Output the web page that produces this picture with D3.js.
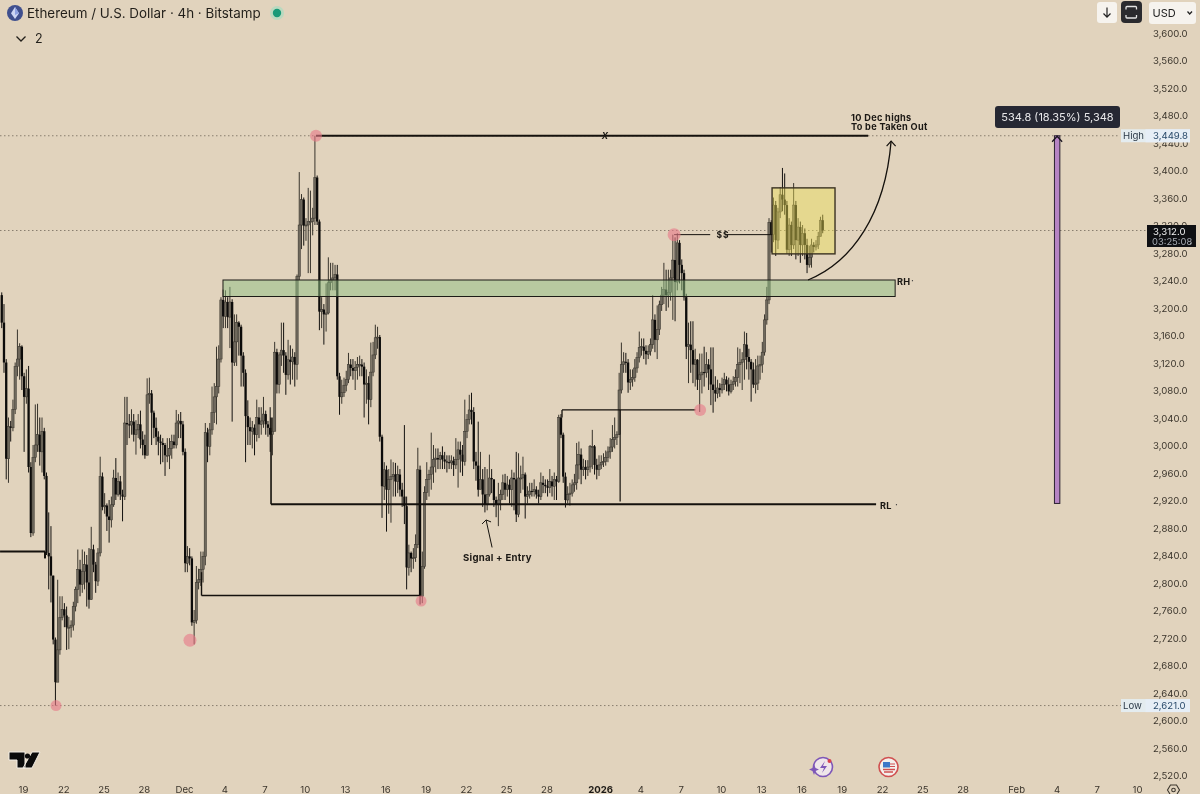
<!DOCTYPE html>
<html><head><meta charset="utf-8">
<script src="https://cdn.jsdelivr.net/npm/d3@7/dist/d3.min.js"></script>
<style>html,body{margin:0;padding:0;background:#e1d3bd;overflow:hidden}svg{display:block;font-family:Inter,"Noto Sans",sans-serif}</style>
</head><body><svg id="c" width="1200" height="794"></svg>
<script>
// 4h candles, first bar opens Nov 17 2025 08:00 UTC
const firstOpen = 3218;
const closes = [
3178,3120,2980,3027,3025,3052,3114,3125,3143,3100,
3070,3082,2968,2872,2982,3000,3015,2990,3020,2955,
2843,2838,2810,2717,2655,2702,2749,2761,2752,2735,
2735,2738,2765,2790,2819,2797,2816,2826,2800,2775,
2848,2826,2802,2843,2954,2910,2912,2896,2891,2913,
2952,2928,2947,2928,2925,3032,3030,3029,3034,3015,
3022,3030,3008,3000,2985,3073,3075,3047,3025,3012,
3005,3003,3000,2985,2985,2995,3005,3000,3032,3035,
3030,2990,2828,2838,2835,2742,2745,2800,2804,2819,
2838,3018,2998,3022,3047,3070,3085,3125,3211,3187,
3208,3186,3208,3120,3150,3178,3172,3130,3105,3042,
3026,3020,3025,3015,3040,3030,3035,3045,3030,3025,
3015,3020,3135,3088,3131,3138,3130,3102,3124,3121,
3128,3117,3245,3320,3357,3319,3320,3325,3325,3330,
3389,3325,3194,3197,3190,3192,3236,3240,3243,3248,
3100,3070,3076,3087,3095,3117,3112,3108,3113,3117,
3117,3114,3088,3090,3066,3106,3131,3156,3157,3012,
2940,2964,2935,2950,2954,2957,2947,2957,2935,2925,
2911,2822,2843,2835,2836,2855,2964,2780,2823,2931,
2950,2957,2968,2979,2981,2979,2985,2979,2976,2975,
2974,2977,2971,2979,2993,2986,2976,3020,3037,3051,
3048,2976,2970,2935,2950,2928,2913,2928,2952,2950,
2920,2913,2920,2928,2945,2935,2942,2935,2952,2950,
2899,2952,2952,2957,2925,2928,2933,2932,2935,2928,
2925,2945,2942,2940,2938,2947,2940,2950,2947,3040,
3015,2954,2920,2928,2930,2942,2945,2971,2986,2964,
2968,2964,2968,2998,2998,2971,2964,2971,2975,2976,
2982,2990,2997,3008,3011,3015,3080,3117,3121,3120,
3091,3095,3098,3112,3127,3142,3143,3137,3132,3136,
3146,3182,3153,3168,3204,3218,3226,3218,3222,3243,
3269,3237,3294,3262,3250,3215,3143,3146,3138,3117,
3124,3095,3102,3106,3105,3117,3110,3088,3080,3075,
3083,3080,3088,3095,3088,3078,3088,3092,3098,3117,
3120,3124,3146,3128,3121,3110,3088,3090,3115,3117,
3135,3182,3211,3324,3306,3349,3298,3339,3364,3357,
3349,3284,3320,3291,3349,3298,3317,3291,3308,3291,
3262,3273,3291,3288,3291,3303,3327,3312];
const highs = [
3222,3205,3125,3040,3035,3066,3120,3168,3148,3145,
3105,3110,3115,2975,3000,3059,3060,3040,3040,3025,
2960,2902,2882,2810,2720,2804,2780,2780,2770,2765,
2750,2745,2772,2794,2848,2833,2848,2845,2840,2850,
2881,2855,2830,2850,2983,2960,2930,2915,2920,2925,
2964,2981,2960,2955,2935,3070,3070,3045,3052,3045,
3036,3045,3050,3020,3015,3097,3098,3080,3050,3040,
3020,3015,3010,3003,3010,3010,3015,3015,3051,3045,
3048,3035,2995,2853,2850,2838,2760,2824,2820,2845,
2845,3032,3025,3032,3085,3090,3143,3145,3215,3226,
3225,3215,3230,3212,3190,3190,3180,3175,3135,3110,
3065,3040,3035,3030,3066,3055,3055,3070,3050,3035,
3055,3040,3150,3140,3135,3178,3178,3135,3153,3145,
3140,3135,3248,3397,3365,3360,3330,3374,3370,3345,
3449.8,3392,3328,3215,3205,3235,3273,3265,3265,3262,
3262,3105,3095,3098,3108,3134,3125,3125,3122,3128,
3130,3125,3120,3110,3100,3149,3150,3175,3172,3160,
3015,2975,2970,2965,2979,2975,2974,2970,2965,2945,
3029,2925,2855,2845,2850,2870,2996,2970,2845,2940,
2975,2964,3018,3000,2995,2995,2990,2998,2990,2985,
2985,2985,2983,3010,3005,3005,3000,3066,3045,3073,
3076,3055,2990,3034,2990,2965,2968,2965,2986,2965,
2950,2925,2945,2935,2957,2958,2955,2950,2964,2960,
2990,2988,2970,2983,2960,2940,2945,2945,2950,2940,
2935,2960,2955,2950,2950,2965,2955,2960,2955,3044,
3045,3018,2960,2940,2945,2950,2958,3003,3005,2995,
2980,2978,2978,3000,3022,3000,2980,2985,2985,2988,
2992,2998,3010,3029,3040,3020,3105,3149,3135,3134,
3125,3110,3110,3125,3135,3165,3155,3155,3145,3145,
3155,3218,3190,3203,3210,3230,3265,3255,3255,3255,
3306,3302,3308,3298,3270,3255,3220,3178,3180,3180,
3140,3125,3133,3133,3143,3135,3125,3142,3142,3100,
3095,3090,3098,3105,3100,3098,3095,3100,3110,3142,
3140,3135,3165,3163,3140,3125,3120,3125,3130,3130,
3150,3190,3230,3330,3327,3360,3355,3345,3375,3403,
3395,3355,3330,3325,3381,3355,3330,3325,3320,3315,
3300,3290,3300,3295,3298,3310,3332,3335];
const lows = [
3170,3105,2950,2945,3005,3020,3045,3100,3095,3080,
2990,3060,2960,2866,2868,2975,2990,2970,2960,2950,
2840,2790,2771,2710,2621,2670,2695,2745,2735,2702,
2703,2720,2730,2758,2770,2780,2785,2790,2765,2762,
2775,2815,2785,2795,2838,2905,2900,2875,2858,2880,
2910,2920,2925,2920,2889,2920,3000,3010,3015,3005,
2986,3010,2995,2985,2980,3000,3060,3000,3010,3000,
2985,2972,2975,2955,2975,2965,2980,2995,2995,3010,
3010,2985,2815,2815,2825,2737,2710,2740,2790,2795,
2800,2825,2975,2985,3015,3032,3030,3075,3120,3170,
3170,3170,3141,3034,3115,3115,3130,3085,3085,2975,
3000,3000,2995,2985,3005,3010,3015,3025,3015,3012,
2990,2985,3020,3075,3075,3115,3105,3073,3095,3088,
3095,3085,3095,3240,3285,3290,3297,3250,3250,3305,
3320,3320,3167,3170,3146,3165,3190,3225,3225,3225,
3095,3044,3060,3070,3078,3090,3100,3095,3080,3095,
3100,3100,3040,3060,3030,3055,3100,3125,3140,3005,
2894,2920,2874,2900,2887,2925,2925,2930,2925,2910,
2885,2790,2810,2815,2820,2830,2850,2768,2770,2820,
2920,2925,2935,2945,2960,2965,2965,2965,2965,2960,
2965,2965,2955,2965,2938,2960,2955,2970,3010,3030,
3030,2965,2948,2925,2942,2910,2902,2905,2925,2930,
2910,2895,2882,2905,2920,2920,2925,2915,2910,2905,
2888,2895,2930,2935,2893,2915,2922,2925,2925,2922,
2915,2920,2930,2930,2925,2930,2925,2920,2920,2945,
3010,2945,2909,2915,2912,2925,2932,2935,2950,2943,
2955,2950,2955,2960,2965,2957,2950,2955,2965,2968,
2970,2975,2980,2990,2995,3000,3015,3075,3105,3105,
3076,3080,3085,3092,3105,3120,3130,3125,3117,3125,
3130,3140,3135,3125,3160,3195,3205,3195,3200,3210,
3182,3180,3225,3235,3225,3210,3125,3090,3105,3090,
3085,3080,3048,3075,3085,3098,3080,3058,3047,3063,
3068,3070,3075,3080,3078,3072,3075,3080,3085,3085,
3090,3080,3095,3110,3095,3063,3083,3075,3080,3095,
3105,3130,3175,3205,3280,3295,3275,3285,3330,3340,
3335,3278,3275,3275,3285,3270,3275,3265,3275,3270,
3250,3258,3258,3280,3283,3285,3305,3308];

const priceTicks = [3600,3560,3520,3480,3440,3400,3360,3320,3280,3240,3200,3160,3120,3080,3040,3000,2960,2920,2880,2840,2800,2760,2720,2680,2640,2600,2560,2520];
const xTickDates = ["2025-11-19","2025-11-22","2025-11-25","2025-11-28","2025-12-01","2025-12-04","2025-12-07","2025-12-10","2025-12-13","2025-12-16","2025-12-19","2025-12-22","2025-12-25","2025-12-28","2026-01-01","2026-01-04","2026-01-07","2026-01-10","2026-01-13","2026-01-16","2026-01-19","2026-01-22","2026-01-25","2026-01-28","2026-02-01","2026-02-04","2026-02-07","2026-02-10"];
const xTickLabels = ["19","22","25","28","Dec","4","7","10","13","16","19","22","25","28","2026","4","7","10","13","16","19","22","25","28","Feb","4","7","10"];

const HIGH = 3449.8, LOW = 2621, LAST = 3312, RANGE_LOW = 2915;
// annotations as [days after Nov 19, price]
const swingDots = [[21.83,3449.8],[2.46,2621],[12.44,2716],[29.66,2773],[48.51,3306],[50.45,3051]];
const rhZone = {d0:14.9,d1:64.98,p0:3240,p1:3216};
const yellowBox = {d0:55.81,d1:60.5,p0:3374,p1:3278};
const segments = [
 [[-1.71,2845],[1.64,2845],2],[[1.64,2845],[1.64,2835],2],
 [[21.83,3449.8],[62.97,3449.8],2],
 [[18.48,2914],[63.56,2914],2],
 [[18.48,3040],[18.48,2914],1.6],
 [[13.3,2781],[29.66,2781],1.4],
 [[13.3,2815],[13.3,2781],1.4],
 [[40.16,3051],[50.1,3051],1.3],
 [[40.16,3040],[40.16,3051],1.3],
 [[44.49,3051],[44.49,2918],1.2],
 [[48.51,3306],[51.2,3306],1],
 [[52.4,3306],[55.81,3306],1]
];
const arrowCurve = [[58.49,3240],[61.77,3266],[64.23,3335],[64.68,3442]];
const signalArrow = [[34.95,2851],[34.5,2891]];

const T0 = Date.UTC(2025,10,19), DAY = 864e5;
const x = d3.scaleUtc().domain([new Date(T0), new Date(Date.UTC(2026,1,10))]).range([23,1137]);
const y = d3.scaleLinear().domain([2520,3600]).range([775,32.5]);
const X = d => x(new Date(T0 + d*DAY));
const svg = d3.select("#c");
svg.append("rect").attr("width",1200).attr("height",794).attr("fill","#e1d3bd");
const root = svg.append("g").style("filter","blur(0.35px)");

// reference levels
const dots = root.append("g").attr("stroke","#5a5145").attr("stroke-width",1).attr("stroke-dasharray","1.5 2.5").attr("opacity",.65);
[[HIGH,1120],[LAST,1147],[LOW,1122]].forEach(([p,x2])=>dots.append("line").attr("x1",0).attr("x2",x2).attr("y1",y(p)).attr("y2",y(p)));

// candles
const t0 = Date.UTC(2025,10,17,8);
const bars = closes.map((c,i)=>({t:new Date(t0+(i*4+2)*36e5),o:i?closes[i-1]:firstOpen,c,h:highs[i],l:lows[i]}));
const cg = root.append("g");
cg.selectAll("line").data(bars).join("line")
 .attr("x1",d=>x(d.t)).attr("x2",d=>x(d.t)).attr("y1",d=>y(d.h)).attr("y2",d=>y(d.l))
 .attr("stroke",d=>d.c>=d.o?"#38342c":"#141210").attr("stroke-width",1);
cg.selectAll("rect").data(bars).join("rect")
 .attr("x",d=>x(d.t)-1.15).attr("width",2.3)
 .attr("y",d=>y(Math.max(d.o,d.c))).attr("height",d=>Math.max(1,Math.abs(y(d.o)-y(d.c))))
 .attr("fill",d=>d.c>=d.o?"#6f695d":"#0c0b0a").attr("stroke",d=>d.c>=d.o?"#35312a":"none").attr("stroke-width",.5);

// zones
root.append("rect").attr("x",X(rhZone.d0)).attr("y",y(rhZone.p0)).attr("width",X(rhZone.d1)-X(rhZone.d0)).attr("height",y(rhZone.p1)-y(rhZone.p0))
 .attr("fill","rgb(143,191,131)").attr("fill-opacity",.5).attr("stroke","#1d1b16").attr("stroke-width",1);
root.append("rect").attr("x",X(yellowBox.d0)).attr("y",y(yellowBox.p0)).attr("width",X(yellowBox.d1)-X(yellowBox.d0)).attr("height",y(yellowBox.p1)-y(yellowBox.p0))
 .attr("fill","rgb(234,222,86)").attr("fill-opacity",.45).attr("stroke","#3a3222").attr("stroke-width",1.4);

// trend lines
root.append("g").selectAll("line").data(segments).join("line")
 .attr("x1",d=>X(d[0][0])).attr("y1",d=>y(d[0][1])).attr("x2",d=>X(d[1][0])).attr("y2",d=>y(d[1][1]))
 .attr("stroke","#14110d").attr("stroke-width",d=>d[2]);

// pink swing markers
root.append("g").selectAll("circle").data(swingDots).join("circle")
 .attr("cx",d=>X(d[0])).attr("cy",d=>y(d[1])).attr("r",(d,i)=>[6,5.5,6.5,5.5,6.5,6][i])
 .attr("fill","rgb(232,120,135)").attr("fill-opacity",.6);

// curved arrow
const c = arrowCurve.map(d=>[X(d[0]),y(d[1])]);
root.append("path").attr("d",`M${c[0]}C${c[1]} ${c[2]} ${c[3]}`).attr("fill","none").attr("stroke","#14110d").attr("stroke-width",1.3);
const [hx,hy]=c[3];
root.append("path").attr("d",`M${hx-4.5},${hy+5}L${hx},${hy}L${hx+4.5},${hy+5}`).attr("fill","none").attr("stroke","#14110d").attr("stroke-width",1.2);
// signal arrow
const s0=[X(signalArrow[0][0]),y(signalArrow[0][1])], s1=[X(signalArrow[1][0]),y(signalArrow[1][1])];
root.append("path").attr("d",`M${s0}L${s1}M${s1[0]-4},${s1[1]+4}L${s1}L${s1[0]+5},${s1[1]+2}`).attr("fill","none").attr("stroke","#14110d").attr("stroke-width",1);

// drawing labels
const lab=(t,xp,yp,o={})=>root.append("text").attr("x",xp).attr("y",yp).text(t)
 .attr("font-size",o.s||9.2).attr("font-weight",o.w||700).attr("fill",o.f||"#1b1814").attr("text-anchor",o.a||"start").attr("letter-spacing",o.ls||.3).attr("font-style",o.i||null);
lab("10 Dec highs",851,120.5);
lab("To be Taken Out",851,130);
lab("RH",897,284.5);
lab("RL",880,508.5);
lab("X",605,139,{a:"middle",s:8.5,i:"italic"});
lab("$$",723,237.5,{a:"middle",s:8.5,ls:1});
lab("Signal + Entry",463,561,{s:9.6,ls:.25});
root.append("text").attr("x",895).attr("y",508).text("·").attr("font-size",10).attr("fill","#333");
root.append("text").attr("x",911).attr("y",284).text("·").attr("font-size",10).attr("fill","#333");

// axes
const fmt=d3.format(",.1f");
const ya=root.append("g").attr("transform","translate(1153,0.5)").call(d3.axisRight(y).tickValues(priceTicks).tickFormat(fmt).tickSize(0).tickPadding(0));
const labelMap=new Map(xTickDates.map((d,i)=>[+new Date(d+"T00:00:00Z"),xTickLabels[i]]));
const xa=root.append("g").attr("transform","translate(0,786)").call(d3.axisBottom(x).tickValues(xTickDates.map(d=>new Date(d+"T00:00:00Z"))).tickFormat(d=>labelMap.get(+d)).tickSize(0).tickPadding(0));
[ya,xa].forEach(a=>{a.select(".domain").remove();a.selectAll("text").attr("font-family","Inter,sans-serif").attr("font-size",9.6).attr("fill","#3c362d");});
xa.selectAll("text").filter(d=>labelMap.get(+d)==="2026").attr("font-weight",700).attr("fill","#1b1814");

// measuring arrow
const mx=X(77.05);
const mg=root.append("g");
mg.append("rect").attr("x",mx-2.7).attr("y",y(HIGH)).attr("width",5.4).attr("height",y(RANGE_LOW)-y(HIGH)).attr("fill","#b684c4").attr("stroke","#2a2030").attr("stroke-width",1);
mg.append("path").attr("d",`M${mx-5},${y(HIGH)+6}L${mx},${y(HIGH)+.5}L${mx+5},${y(HIGH)+6}`).attr("fill","none").attr("stroke","#1a1620").attr("stroke-width",1.3);
mg.append("rect").attr("x",995).attr("y",106).attr("width",125).attr("height",22).attr("rx",3).attr("fill","#262833");
mg.append("text").attr("x",1057.5).attr("y",121).attr("text-anchor","middle").attr("font-size",11).attr("fill","#e8e8ea").text("534.8 (18.35%) 5,348");

// price tags
const tag=(lbl,p,yc)=>{
 root.append("rect").attr("x",1121).attr("y",yc-6.5).attr("width",69).attr("height",13).attr("fill","#e4ecef");
 root.append("rect").attr("x",1145.5).attr("y",yc-6.5).attr("width",44.5).attr("height",13).attr("fill","#e6eef6");
 root.append("text").attr("x",1123).attr("y",yc+3.5).attr("font-size",9.6).attr("fill","#2c3a48").text(lbl);
 root.append("text").attr("x",1153).attr("y",yc+3.5).attr("font-size",9.6).attr("fill","#2a4a6a").text(fmt(p));
};
tag("High",HIGH,y(HIGH));tag("Low",LOW,y(LOW));
root.append("rect").attr("x",1147).attr("y",225).attr("width",49).attr("height",22).attr("fill","#0f1013");
root.append("text").attr("x",1153).attr("y",235).attr("font-size",9.6).attr("fill","#f0f0f0").text(fmt(LAST));
root.append("text").attr("x",1152).attr("y",245).attr("font-size",9.4).attr("fill","#a8adb5").text("03:25:08");

// header
root.append("circle").attr("cx",15).attr("cy",13).attr("r",8).attr("fill","#3f4f8e");
root.append("path").attr("d","M15,7L19,13.2L15,19L11,13.2Z").attr("fill","#cdd6f4");
root.append("path").attr("d","M15,7L19,13.2L15,15Z").attr("fill","#8fa2e2");
root.append("text").attr("x",27).attr("y",18).attr("font-size",13.4).attr("fill","#221f1a").text("Ethereum / U.S. Dollar · 4h · Bitstamp");
root.append("circle").attr("cx",277).attr("cy",13).attr("r",7).attr("fill","#a9dcc0").attr("opacity",.7);
root.append("circle").attr("cx",277).attr("cy",13).attr("r",4.2).attr("fill","#179a78");
root.append("path").attr("d","M16.5,36.5L21,41L25.5,36.5").attr("fill","none").attr("stroke","#221f1a").attr("stroke-width",1.3);
root.append("text").attr("x",35).attr("y",43).attr("font-size",12.5).attr("fill","#221f1a").text("2");

// top right buttons
root.append("rect").attr("x",1097).attr("y",2).attr("width",20).attr("height",21).attr("rx",3).attr("fill","#f6f3ee");
root.append("path").attr("d","M1107,7.5V17M1103.5,13.5L1107,17.2L1110.5,13.5").attr("fill","none").attr("stroke","#222").attr("stroke-width",1.2);
root.append("rect").attr("x",1121).attr("y",1).attr("width",21).attr("height",22).attr("rx",4).attr("fill","#2a2a2e");
root.append("path").attr("d","M1126,9.5V7.5q0,-1 1,-1h8.5q1,0 1,1v2M1126,15v2q0,1 1,1h8.5q1,0 1,-1v-2").attr("fill","none").attr("stroke","#e4e4e4").attr("stroke-width",1.3);
root.append("rect").attr("x",1149).attr("y",2).attr("width",47).attr("height",22).attr("rx",3).attr("fill","#f6f3ee");
root.append("text").attr("x",1152.5).attr("y",17).attr("font-size",11).attr("fill","#222").text("USD");
root.append("path").attr("d","M1187.5,11.5L1189.7,14L1192,11.5").attr("fill","none").attr("stroke","#222").attr("stroke-width",1.3);

// TV logo
root.append("path").attr("d","M9,752H25V768H17V760H9ZM32,752H40L32,768H23Z").attr("fill","#0b0b0b").attr("stroke","#f3eee6").attr("stroke-width",1);
root.append("circle").attr("cx",27.5).attr("cy",756).attr("r",2.6).attr("fill","#0b0b0b");

// event icons
root.append("circle").attr("cx",823).attr("cy",767).attr("r",9.5).attr("fill","#efe6ea").attr("stroke","#7e57b8").attr("stroke-width",1.6);
root.append("path").attr("d","M825,761L820,768H824L822,773L827,766H823Z").attr("fill","#7e57b8");
root.append("path").attr("d","M814,764L815.5,768L819,769.5L815.5,771L814,775L812.5,771L809,769.5L812.5,768Z").attr("fill","#7e57b8");
root.append("circle").attr("cx",829.5).attr("cy",761).attr("r",2).attr("fill","#d8404f");
root.append("circle").attr("cx",888.5).attr("cy",767).attr("r",9.5).attr("fill","#f4f0ec").attr("stroke","#d05050").attr("stroke-width",1.6);
root.append("rect").attr("x",883).attr("y",762).attr("width",7).attr("height",5.5).attr("fill","#3d78c8");
root.append("path").attr("d","M883,769.5H895M884,772H893").attr("stroke","#d05050").attr("stroke-width",1.5);
root.append("path").attr("d","M890,764H895M890,766.5H895").attr("stroke","#d05050").attr("stroke-width",1);

// settings hexagon
root.append("path").attr("d","M1167.5,790L1170.5,785H1176.5L1179.5,790L1176.5,795H1170.5Z").attr("fill","none").attr("stroke","#3c362d").attr("stroke-width",1.1);
root.append("circle").attr("cx",1173.5).attr("cy",790).attr("r",1.8).attr("fill","none").attr("stroke","#3c362d").attr("stroke-width",1.1);
</script></body></html>
